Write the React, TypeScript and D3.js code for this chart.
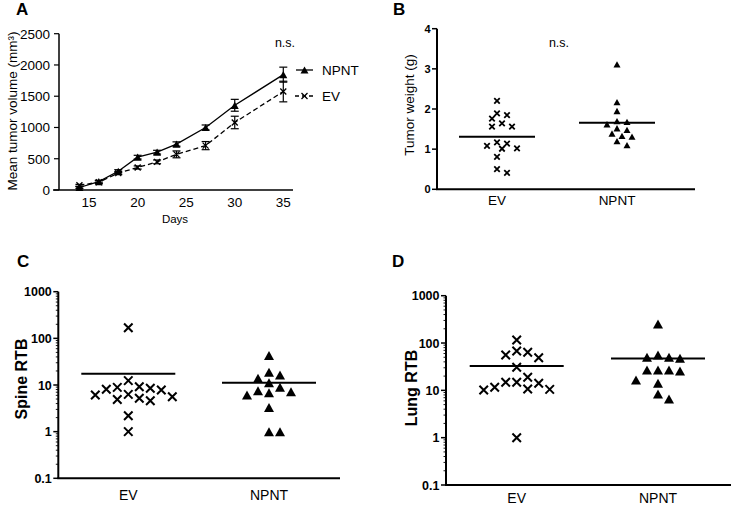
import * as d3 from "d3";

// Panel A: tumour growth
const days = [14, 16, 18, 20, 22, 24, 27, 30, 35];
const npntVolume = [40, 135, 300, 525, 605, 735, 1000, 1355, 1845];
const npntSem = [15, 20, 25, 30, 30, 35, 40, 95, 120];
const evVolume = [75, 125, 270, 360, 450, 570, 710, 1080, 1575];
const evSem = [15, 20, 25, 25, 30, 55, 65, 100, 165];
const volumeTicks = [0, 500, 1000, 1500, 2000, 2500];
const dayTicks = [15, 20, 25, 30, 35];

// Panel B: tumour weight (g)
const groups = ["EV", "NPNT"];
const weightEV = [2.2, 1.76, 1.85, 1.89, 1.56, 1.56, 1.64, 1.17, 1.01, 1.08, 1.14, 1.02, 0.81, 0.41, 0.5];
const weightNPNT = [3.11, 2.17, 1.95, 1.68, 1.62, 1.7, 1.48, 1.52, 1.33, 1.31, 1.39, 1.1, 1.2];
const weightTicks = [0, 1, 2, 3, 4];

// Panels C, D: RTB
const spineEV = [169, 7.8, 8.9, 8.5, 6.3, 5.2, 8.1, 4.6, 9.2, 4.9, 12.4, 5.6, 6.1, 2.2, 1.0];
const spineNPNT = [43, 18.7, 13.9, 11.2, 16.4, 8.9, 7.2, 6.1, 6.8, 7.5, 3.3, 1.0, 1.0];
const lungEV = [116, 68, 56, 49, 64, 30.8, 18.9, 14.8, 11.6, 10.5, 10.2, 10.7, 14.1, 14.8, 1.0];
const lungNPNT = [253, 56, 50, 47.7, 50, 27, 25.7, 27, 27, 16.6, 14.1, 6.6, 8.4];
const logTicks = [0.1, 1, 10, 100, 1000];

const FONT = "'Liberation Sans', Arial, Helvetica, sans-serif";

function triPath(cx: number, cy: number, w: number) {
  const h = w * 0.9;
  return `M${cx - w / 2},${cy + h / 2}L${cx + w / 2},${cy + h / 2}L${cx},${cy - h / 2}Z`;
}
function crossPath(cx: number, cy: number, w: number) {
  const r = w / 2;
  return `M${cx - r},${cy - r}L${cx + r},${cy + r}M${cx - r},${cy + r}L${cx + r},${cy - r}`;
}

// simple beeswarm: candidate offsets are multiples of step, points keep at least `gap` apart
function swarm(values: number[], y: (v: number) => number, step: number, gap: number) {
  const order = values.map((_, i) => i).sort((a, b) => values[b] - values[a]);
  const placed: { x: number; y: number }[] = [];
  const out: { dx: number; y: number }[] = new Array(values.length);
  for (const i of order) {
    const py = y(values[i]);
    for (let k = 0; k < 40; k++) {
      const cands = k === 0 ? [0] : [k * step, -k * step];
      const dx = cands.find((c) => placed.every((p) => Math.hypot(p.x - c, p.y - py) >= gap));
      if (dx !== undefined) {
        placed.push({ x: dx, y: py });
        out[i] = { dx, y: py };
        break;
      }
    }
  }
  return out;
}

function PanelA() {
  const x = d3.scaleLinear().domain([12, 36]).range([60, 293]);
  const y = d3.scaleLinear().domain([0, 2500]).range([190, 33.7]);
  const line = d3.line<number>().x((_, i) => x(days[i])).y((d) => y(d));
  const series = [
    { name: "NPNT", values: npntVolume, sem: npntSem, dash: undefined, tri: true },
    { name: "EV", values: evVolume, sem: evSem, dash: "5,3", tri: false },
  ];
  return (
    <g fontFamily={FONT}>
      <text x={16} y={15} fontSize={17} fontWeight="bold">A</text>
      <line x1={59} x2={59} y1={y(2500)} y2={y(0)} stroke="#000" strokeWidth={1.5} />
      <line x1={53} x2={293} y1={y(0)} y2={y(0)} stroke="#000" strokeWidth={1.5} />
      {volumeTicks.map((t) => (
        <g key={t}>
          <line x1={54} x2={59} y1={y(t)} y2={y(t)} stroke="#000" strokeWidth={1.2} />
          <text x={50} y={y(t)} dy="0.36em" textAnchor="end" fontSize={13.5}>{t}</text>
        </g>
      ))}
      {dayTicks.map((t) => (
        <text key={t} x={x(t)} y={207} textAnchor="middle" fontSize={13.5}>{t}</text>
      ))}
      <text x={175} y={223} textAnchor="middle" fontSize={11.5}>Days</text>
      <text transform="translate(17,111) rotate(-90)" textAnchor="middle" fontSize={13.5}>
        Mean tumor volume (mm³)
      </text>
      {series.map((s) => (
        <g key={s.name}>
          <path d={line(s.values) || ""} fill="none" stroke="#000" strokeWidth={1.3} strokeDasharray={s.dash} />
          {s.values.map((v, i) => {
            const cx = x(days[i]);
            return (
              <g key={i} stroke="#000" strokeWidth={1.2}>
                <line x1={cx} x2={cx} y1={y(v - s.sem[i])} y2={y(v + s.sem[i])} />
                <line x1={cx - 4} x2={cx + 4} y1={y(v - s.sem[i])} y2={y(v - s.sem[i])} />
                <line x1={cx - 4} x2={cx + 4} y1={y(v + s.sem[i])} y2={y(v + s.sem[i])} />
                {s.tri ? (
                  <path d={triPath(cx, y(v), 8)} fill="#000" stroke="none" />
                ) : (
                  <path d={crossPath(cx, y(v), 6)} fill="none" strokeWidth={1.3} />
                )}
              </g>
            );
          })}
        </g>
      ))}
      <text x={285} y={47} textAnchor="middle" fontSize={12.5}>n.s.</text>
      {/* legend */}
      <line x1={296} x2={313} y1={70} y2={70} stroke="#000" strokeWidth={1.3} />
      <path d={triPath(304.5, 70, 8)} fill="#000" />
      <text x={322} y={75} fontSize={13.5}>NPNT</text>
      <line x1={295} x2={314} y1={96} y2={96} stroke="#000" strokeWidth={1.3} strokeDasharray="4,3" />
      <path d={crossPath(304.5, 96, 6)} stroke="#000" strokeWidth={1.3} fill="none" />
      <text x={322} y={101} fontSize={13.5}>EV</text>
    </g>
  );
}

type DotProps = {
  letter: string;
  letterPos: [number, number];
  axisX: number;
  yRange: [number, number];
  xEnd: number;
  log: boolean;
  ticks: number[];
  centers: number[];
  data: number[][];
  title: string;
  titlePos: [number, number];
  titleBold: boolean;
  titleSize: number;
  tickSize: number;
  catSize: number;
  catY: number;
  marker: number;
  step: number;
  gap: number;
  meanHalf: number;
  ns?: [number, number];
};

function DotPanel(p: DotProps) {
  const y = p.log
    ? d3.scaleLog().domain([0.1, 1000]).range(p.yRange)
    : d3.scaleLinear().domain([0, 4]).range(p.yRange);
  const minor: number[] = [];
  if (p.log) {
    for (let e = -1; e < 3; e++) for (let k = 2; k <= 9; k++) minor.push(k * Math.pow(10, e));
  }
  const y0 = p.yRange[0];
  return (
    <g fontFamily={FONT}>
      <text x={p.letterPos[0]} y={p.letterPos[1]} fontSize={17} fontWeight="bold">{p.letter}</text>
      <line x1={p.axisX} x2={p.axisX} y1={p.yRange[1]} y2={y0} stroke="#000" strokeWidth={2} />
      <line x1={p.axisX - 1} x2={p.xEnd} y1={y0} y2={y0} stroke="#000" strokeWidth={2} />
      {minor.map((t) => (
        <line key={t} x1={p.axisX - 2.5} x2={p.axisX} y1={y(t)} y2={y(t)} stroke="#000" strokeWidth={0.9} />
      ))}
      {p.ticks.map((t) => (
        <g key={t}>
          <line x1={p.axisX - 5} x2={p.axisX} y1={y(t)} y2={y(t)} stroke="#000" strokeWidth={1.5} />
          <text x={p.axisX - 6.5} y={y(t)} dy="0.36em" textAnchor="end" fontSize={p.tickSize} fontWeight="bold">
            {t}
          </text>
        </g>
      ))}
      <text
        transform={`translate(${p.titlePos[0]},${p.titlePos[1]}) rotate(-90)`}
        textAnchor="middle"
        fontSize={p.titleSize}
        fontWeight={p.titleBold ? "bold" : "normal"}
      >
        {p.title}
      </text>
      {groups.map((g, gi) => {
        const cx = p.centers[gi];
        const vals = p.data[gi];
        const pts = swarm(vals, (v) => y(v), p.step, p.gap);
        const m = d3.mean(vals) || 0;
        return (
          <g key={g}>
            <text x={cx} y={p.catY} textAnchor="middle" fontSize={p.catSize}>{g}</text>
            <line x1={cx - p.meanHalf} x2={cx + p.meanHalf} y1={y(m)} y2={y(m)} stroke="#000" strokeWidth={2} />
            {pts.map((pt, i) =>
              gi === 0 ? (
                <path key={i} d={crossPath(cx + pt.dx, pt.y, p.marker)} stroke="#000" strokeWidth={p.marker > 7 ? 2 : 1.8} fill="none" />
              ) : (
                <path key={i} d={triPath(cx + pt.dx, pt.y, p.marker + 1.5)} fill="#000" />
              )
            )}
          </g>
        );
      })}
      {p.ns && (
        <text x={p.ns[0]} y={p.ns[1]} textAnchor="middle" fontSize={12.5}>n.s.</text>
      )}
    </g>
  );
}

export default function App() {
  return (
    <svg width={731} height={506} style={{ position: "absolute", left: 0, top: 0, background: "#fff" }}>
      <rect width={731} height={506} fill="#fff" />
      <PanelA />
      <DotPanel
        letter="B"
        letterPos={[393, 15]}
        axisX={437}
        yRange={[189.3, 28.7]}
        xEnd={695}
        log={false}
        ticks={weightTicks}
        centers={[497, 617]}
        data={[weightEV, weightNPNT]}
        title="Tumor weight (g)"
        titlePos={[414, 105]}
        titleBold={false}
        titleSize={13.5}
        tickSize={11}
        catSize={13.5}
        catY={205}
        marker={5.5}
        step={5}
        gap={7.2}
        meanHalf={38}
        ns={[559, 47]}
      />
      <DotPanel
        letter="C"
        letterPos={[17, 267]}
        axisX={58.3}
        yRange={[478.3, 291.7]}
        xEnd={340}
        log={true}
        ticks={logTicks}
        centers={[128.3, 269]}
        data={[spineEV, spineNPNT]}
        title="Spine RTB"
        titlePos={[27, 379]}
        titleBold={true}
        titleSize={16}
        tickSize={12.5}
        catSize={14}
        catY={500}
        marker={8.5}
        step={11}
        gap={10.1}
        meanHalf={47}
      />
      <DotPanel
        letter="D"
        letterPos={[392, 267]}
        axisX={446}
        yRange={[485, 295.7]}
        xEnd={731}
        log={true}
        ticks={logTicks}
        centers={[516.7, 658]}
        data={[lungEV, lungNPNT]}
        title="Lung RTB"
        titlePos={[417, 388]}
        titleBold={true}
        titleSize={16}
        tickSize={12.5}
        catSize={14}
        catY={503}
        marker={8.5}
        step={11}
        gap={10.1}
        meanHalf={47}
      />
    </svg>
  );
}
